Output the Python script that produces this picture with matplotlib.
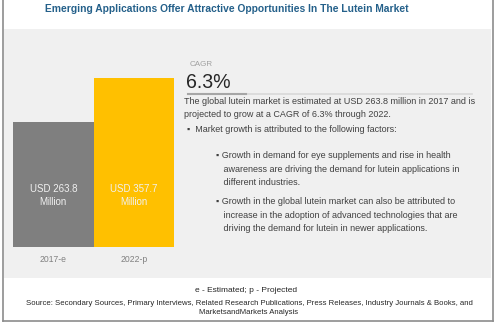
import matplotlib
matplotlib.use("Agg")
import matplotlib.pyplot as plt
from matplotlib.patches import Rectangle
from matplotlib.lines import Line2D

title = "Emerging Applications Offer Attractive Opportunities In The Lutein Market"
categories = ["2017-e", "2022-p"]
values = [263.8, 357.7]
bar_labels = ["USD 263.8\nMillion", "USD 357.7\nMillion"]
bar_colors = ["#7f7f7f", "#ffc000"]
cagr_label = "CAGR"
cagr_value = "6.3%"
summary = ("The global lutein market is estimated at USD 263.8 million in 2017 and is\n"
           "projected to grow at a CAGR of 6.3% through 2022.")
bullet_main = "Market growth is attributed to the following factors:"
sub_bullets = [
    "Growth in demand for eye supplements and rise in health\nawareness are driving the demand for lutein applications in\ndifferent industries.",
    "Growth in the global lutein market can also be attributed to\nincrease in the adoption of advanced technologies that are\ndriving the demand for lutein in newer applications.",
]
footnote = "e - Estimated; p - Projected"
source = ("Source: Secondary Sources, Primary Interviews, Related Research Publications, Press Releases, Industry Journals & Books, and\n"
          "MarketsandMarkets Analysis")

FONT = ["Liberation Sans", "DejaVu Sans"]
plt.rcParams["font.family"] = FONT

W, H = 500, 324
fig = plt.figure(figsize=(W / 100, H / 100), dpi=100)
fig.patch.set_facecolor("white")
renderer = fig.canvas.get_renderer()

def fx(x):
    return x / W

def fy(y):
    return 1 - y / H

def fit(t, target_px):
    w = t.get_window_extent(renderer).width
    t.set_fontsize(t.get_fontsize() * target_px / w)
    return t

# outer border (left, right, bottom)
fig.add_artist(Line2D([fx(2.5), fx(2.5)], [fy(0), fy(321)], color="#8c8c8c", lw=1.2))
fig.add_artist(Line2D([fx(492.5), fx(492.5)], [fy(0), fy(321)], color="#8c8c8c", lw=1.2))
fig.add_artist(Line2D([fx(2.5), fx(492.5)], [fy(321), fy(321)], color="#8c8c8c", lw=1.2))

# gray panel
fig.add_artist(Rectangle((fx(4), fy(278)), fx(487), fy(29) - fy(278),
                         facecolor="#f0f0f0", edgecolor="none", zorder=0))

# title
t = fig.text(fx(227), fy(8.5), title, ha="center", va="center", fontsize=9,
             fontweight="bold", color="#24608a")
fit(t, 362)

# bar axes
ax = fig.add_axes([fx(13), fy(247), fx(174) - fx(13), fy(29) - fy(247)])
ax.set_facecolor("none")
x = range(len(values))
ax.bar(x, values, width=1.0, color=bar_colors)
ax.set_xlim(-0.5, len(values) - 0.5)
ax.set_ylim(0, 461)
for s in ax.spines.values():
    s.set_visible(False)
ax.set_yticks([])
ax.set_xticks(list(x))
ax.set_xticklabels(categories, fontsize=6.2, color="#808080")
ax.tick_params(axis="x", length=0, pad=6)
for i, lab in enumerate(bar_labels):
    ax.text(i, values[0] * 0.41, lab, ha="center", va="center", fontsize=7,
            color="#f0f0f0", linespacing=1.4)

body = dict(fontsize=7, color="#404040", va="center", ha="left", linespacing=1.65)

fig.text(fx(190), fy(64), cagr_label, fontsize=5.8, color="#a0a0a0", va="center", ha="left")
c = fig.text(fx(186), fy(82.5), cagr_value, fontsize=14, color="#262626", va="center", ha="left")
fit(c, 45)
fig.add_artist(Line2D([fx(188), fx(472)], [fy(94), fy(94)], color="#d9d9d9", lw=1.2))
fig.add_artist(Line2D([fx(188), fx(246)], [fy(94), fy(94)], color="#a6a6a6", lw=1.5))

s = fig.text(fx(184), fy(108), summary, **body)
fit(s, 288)
fs = s.get_fontsize()
b = fig.text(fx(187), fy(129), "\u25aa  " + bullet_main, **body)
b.set_fontsize(fs)
s1 = fig.text(fx(216), fy(169), "\u25aa " + sub_bullets[0].replace("\n", "\n   "), **body)
s1.set_fontsize(fs)
s2 = fig.text(fx(216), fy(215), "\u25aa " + sub_bullets[1].replace("\n", "\n   "), **body)
s2.set_fontsize(fs)

f1 = fig.text(fx(246), fy(291), footnote, fontsize=6.3, color="#262626", ha="center", va="center")
fit(f1, 101)
f2 = fig.text(fx(249), fy(308), source, fontsize=6.3, color="#262626", ha="center", va="center",
              linespacing=1.25)
fit(f2, 444)

fig.savefig("out.png", dpi=100)
